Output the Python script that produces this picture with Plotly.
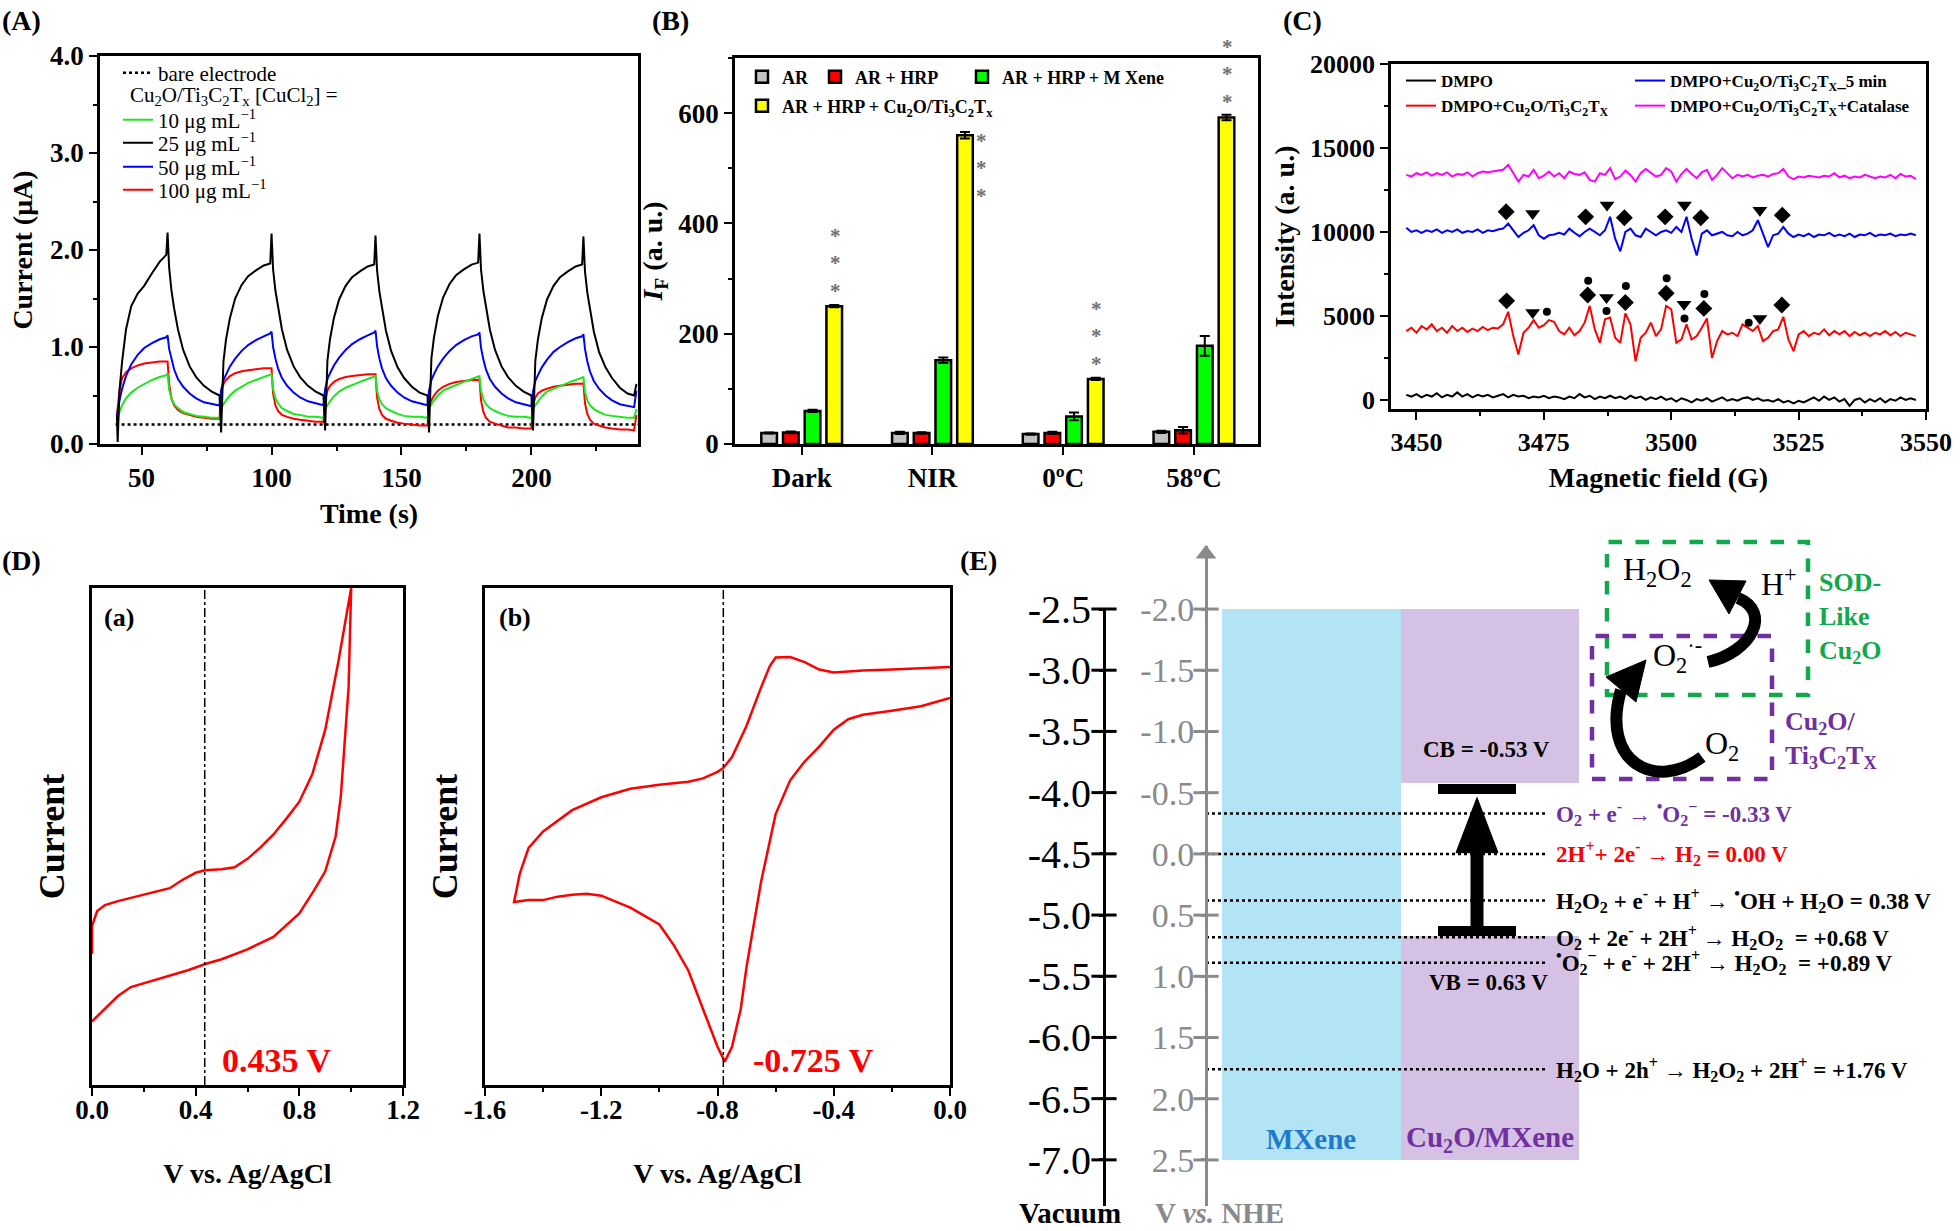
import plotly.graph_objects as go

W, H = 1960, 1231
SERIF = "Liberation Serif"
GRAY = "#8a8a8a"
PURPLE = "#7030a0"
GREEN = "#12a84c"

def fx(x): return x / W
def fy(y): return 1 - y / H
def dx(a, b): return [a / W, b / W]
def dy(top, bottom): return [1 - bottom / H, 1 - top / H]
def P(x, y): return f"{x / W:.5f},{1 - y / H:.5f}"

# ---------------- Panel A data ----------------
A_TIME = [40.5, 40.8, 41.5, 42.5, 44, 46, 48.5, 51, 54, 57, 59.5, 60, 60.6, 61.5, 62.5, 64, 66, 68.5, 71, 74, 77, 79.5,
          80, 80.6, 81.5, 82.5, 84, 86, 88.5, 91, 94, 97, 99.5, 100, 100.6, 101.5, 102.5, 104, 106, 108.5, 111, 114, 117, 119.5,
          120, 120.6, 121.5, 122.5, 124, 126, 128.5, 131, 134, 137, 139.5, 140, 140.6, 141.5, 142.5, 144, 146, 148.5, 151, 154, 157, 159.5,
          160, 160.6, 161.5, 162.5, 164, 166, 168.5, 171, 174, 177, 179.5, 180, 180.6, 181.5, 182.5, 184, 186, 188.5, 191, 194, 197, 199.5,
          200, 200.6, 201.5, 202.5, 204, 206, 208.5, 211, 214, 217, 219.5, 220, 220.6, 221.5, 222.5, 224, 226, 228.5, 231, 234, 237, 239.5,
          240.4]
A_25 = [0.30, 0.02, 0.55, 0.85, 1.18, 1.42, 1.55, 1.63, 1.76, 1.88, 1.95, 2.18, 1.82, 1.58, 1.40, 1.18, 0.97, 0.80, 0.69, 0.60, 0.54, 0.51,
        0.50, 0.12, 0.85, 1.08, 1.30, 1.50, 1.64, 1.73, 1.79, 1.84, 1.86, 2.17, 1.80, 1.58, 1.40, 1.18, 0.97, 0.80, 0.69, 0.60, 0.54, 0.51,
        0.50, 0.14, 0.86, 1.08, 1.30, 1.49, 1.63, 1.72, 1.78, 1.83, 1.85, 2.15, 1.79, 1.57, 1.39, 1.17, 0.96, 0.79, 0.68, 0.59, 0.53, 0.50,
        0.50, 0.12, 0.88, 1.10, 1.32, 1.51, 1.65, 1.74, 1.80, 1.85, 1.87, 2.17, 1.80, 1.58, 1.40, 1.18, 0.97, 0.80, 0.69, 0.60, 0.54, 0.51,
        0.50, 0.14, 0.86, 1.08, 1.30, 1.49, 1.63, 1.72, 1.78, 1.83, 1.85, 2.14, 1.78, 1.56, 1.38, 1.16, 0.95, 0.79, 0.68, 0.58, 0.52, 0.50,
        0.62]
A_50 = [0.30, 0.33, 0.45, 0.57, 0.70, 0.82, 0.92, 0.99, 1.04, 1.08, 1.10, 1.12, 0.98, 0.87, 0.77, 0.67, 0.59, 0.52, 0.47, 0.43, 0.41, 0.40,
        0.40, 0.55, 0.66, 0.72, 0.80, 0.88, 0.96, 1.02, 1.07, 1.11, 1.14, 1.16, 1.00, 0.88, 0.78, 0.68, 0.60, 0.53, 0.48, 0.44, 0.42, 0.40,
        0.40, 0.56, 0.67, 0.73, 0.81, 0.89, 0.97, 1.03, 1.08, 1.12, 1.15, 1.17, 1.01, 0.88, 0.78, 0.68, 0.60, 0.53, 0.48, 0.44, 0.42, 0.40,
        0.40, 0.55, 0.66, 0.72, 0.80, 0.88, 0.96, 1.02, 1.07, 1.11, 1.13, 1.15, 0.99, 0.87, 0.77, 0.67, 0.59, 0.52, 0.47, 0.43, 0.41, 0.40,
        0.39, 0.54, 0.65, 0.71, 0.79, 0.87, 0.95, 1.00, 1.05, 1.09, 1.11, 1.13, 0.98, 0.85, 0.75, 0.65, 0.57, 0.50, 0.45, 0.41, 0.39, 0.38,
        0.55]
A_10 = [0.28, 0.27, 0.33, 0.40, 0.47, 0.53, 0.58, 0.62, 0.66, 0.69, 0.71, 0.73, 0.56, 0.47, 0.41, 0.37, 0.33, 0.31, 0.29, 0.28, 0.27, 0.27,
        0.27, 0.37, 0.41, 0.45, 0.50, 0.55, 0.59, 0.63, 0.66, 0.69, 0.71, 0.72, 0.57, 0.47, 0.42, 0.37, 0.34, 0.31, 0.30, 0.28, 0.28, 0.27,
        0.27, 0.36, 0.40, 0.44, 0.49, 0.54, 0.58, 0.61, 0.64, 0.67, 0.69, 0.70, 0.55, 0.46, 0.41, 0.37, 0.34, 0.31, 0.29, 0.28, 0.28, 0.27,
        0.27, 0.37, 0.41, 0.45, 0.50, 0.55, 0.58, 0.61, 0.64, 0.67, 0.69, 0.70, 0.55, 0.46, 0.41, 0.37, 0.34, 0.31, 0.29, 0.28, 0.28, 0.27,
        0.26, 0.36, 0.40, 0.44, 0.49, 0.54, 0.57, 0.60, 0.63, 0.66, 0.68, 0.69, 0.54, 0.45, 0.40, 0.36, 0.33, 0.30, 0.29, 0.28, 0.27, 0.27,
        0.36]
A_100 = [0.30, 0.36, 0.55, 0.68, 0.74, 0.78, 0.81, 0.83, 0.84, 0.85, 0.85, 0.85, 0.62, 0.47, 0.40, 0.35, 0.32, 0.30, 0.28, 0.27, 0.26, 0.26,
         0.26, 0.55, 0.62, 0.66, 0.70, 0.73, 0.75, 0.76, 0.77, 0.78, 0.78, 0.78, 0.52, 0.40, 0.34, 0.30, 0.28, 0.26, 0.25, 0.24, 0.23, 0.23,
         0.22, 0.45, 0.55, 0.60, 0.64, 0.67, 0.69, 0.70, 0.71, 0.72, 0.72, 0.72, 0.48, 0.36, 0.30, 0.26, 0.24, 0.22, 0.21, 0.20, 0.19, 0.19,
         0.19, 0.38, 0.45, 0.50, 0.55, 0.59, 0.62, 0.64, 0.65, 0.66, 0.66, 0.67, 0.45, 0.33, 0.27, 0.23, 0.21, 0.19, 0.17, 0.17, 0.16, 0.16,
         0.16, 0.40, 0.48, 0.52, 0.55, 0.57, 0.59, 0.60, 0.61, 0.62, 0.62, 0.63, 0.42, 0.31, 0.25, 0.21, 0.19, 0.17, 0.16, 0.15, 0.15, 0.14,
         0.30]
A_BARE_T = [40, 241]
A_BARE_I = [0.20, 0.20]
A_XTICKS = [50, 100, 150, 200]
A_YTICKS = [0.0, 1.0, 2.0, 3.0, 4.0]

# ---------------- Panel B data ----------------
B_CATS = ["Dark", "NIR", "0ºC", "58ºC"]
B_AR = [20, 20, 18, 22]
B_AR_ERR = [1, 2, 1, 2]
B_HRP = [21, 20, 20, 25]
B_HRP_ERR = [1.5, 1.5, 2, 6]
B_MX = [60, 152, 50, 178]
B_MX_ERR = [2, 5, 7, 18]
B_CU = [250, 560, 118, 592]
B_CU_ERR = [2, 6, 2, 5]
B_YTICKS = [0, 200, 400, 600]

# ---------------- Panel C data ----------------
C_FIELD = list(range(3448, 3549))
C_DMPO = [300, 200, 350, 150, 300, 200, 400, 150, 300, 200, 450, 200, 350, 150, 300, 200, 300, 150, 250, 350,
          150, 300, 200, 250, 100, 200, 150, 250, 100, 200, 150, 50, 200, 100, 350, 150, 250, 50, 200, 100,
          250, 100, 200, 50, 250, 100, 200, 0, 150, 50, 200, 0, 100, -100, 100, 0, -150, 50, -50, 100,
          -100, 50, 150, -50, 50, -50, 100, 150, 0, 100, -50, 0, -100, 50, -150, -50, -200, -50, -150, 0,
          150, -50, 200, 0, 150, -100, 50, -350, 0, 100, -150, 50, -100, 100, -150, 50, -50, 150, 0, 100, 0]
C_CU = [4100, 4300, 4000, 4400, 4200, 4500, 4100, 4300, 4000, 4400, 4100, 4300, 4050, 4250, 4100, 4350, 4150, 4300, 4250, 4500,
        5250, 3800, 2700, 4000, 4300, 4750, 4300, 4450, 4750, 4650, 4100, 3900, 4300, 3850, 4100, 4600, 5600, 4200, 3400, 4800,
        4900, 3700, 3400, 5150, 4500, 2300, 3700, 4000, 4600, 3800, 4200, 5600, 5400, 3400, 3600, 4500, 3600, 3800, 4300, 4850,
        2500, 3500, 4100, 3900, 4000, 3800, 4500, 4300, 4100, 4400, 3500, 3700, 4100, 4200, 4950, 3600, 2900, 3900, 4100, 3800,
        4000, 3900, 4200, 3850, 4100, 3900, 4100, 3800, 4050, 3850, 4000, 3800, 4000, 3900, 4100, 3850, 4050, 3800, 4000, 3900, 3800]
C_CU_5MIN = [10250, 10000, 10100, 9950, 10100, 10000, 10150, 9950, 10100, 10000, 10150, 9950, 10050, 10000, 10150, 9950, 10100, 10050, 10150, 10200,
             10500, 10100, 9700, 9950, 10100, 10400, 9800, 9600, 9800, 9850, 9950, 9850, 10200, 9950, 9750, 10000, 10200, 10000, 9800, 10100,
             10900, 9600, 8850, 10000, 10200, 9800, 9700, 10200, 10000, 9800, 10000, 10100, 9950, 10300, 10000, 10900, 9600, 8600, 9900, 10100,
             9800, 9900, 10000, 9800, 9750, 10000, 9800, 9900, 10100, 10700, 9900, 9100, 9800, 9900, 10300, 9900, 9700, 9850, 9750, 9900,
             9700, 9850, 9800, 9950, 9750, 9850, 9750, 9900, 9700, 9850, 9800, 9950, 9750, 9850, 9800, 9900, 9750, 9850, 9800, 9900, 9800]
C_CAT = [13400, 13300, 13500, 13400, 13550, 13350, 13500, 13400, 13550, 13300, 13450, 13400, 13550, 13300, 13500, 13600, 13550, 13600, 13650, 13700,
         14000, 13500, 13000, 13400, 13300, 13700, 13200, 13350, 13600, 13300, 13500, 13200, 13600, 13450, 13400, 13550, 13100, 13000, 13500, 13400,
         13800, 13150, 13300, 13650, 13400, 13000, 13500, 13750, 13500, 13300, 13400, 13800, 13600, 13000, 13450, 13750, 13450, 13200, 13550, 13700,
         13100, 13400, 13800, 13500, 13200, 13400, 13300, 13400, 13250, 13350, 13400, 13300, 13450, 13500, 13750, 13300, 13150, 13300, 13250, 13350,
         13300, 13250, 13350, 13300, 13500, 13250, 13350, 13200, 13300, 13250, 13400, 13300, 13200, 13300, 13250, 13400, 13200, 13450, 13300, 13350, 13150]
C_DIAMOND_X = [3467.6, 3483.2, 3490.8, 3498.8, 3505.8, 3521.8, 3467.7, 3483.6, 3491.0, 3499.0, 3506.4, 3521.7]
C_DIAMOND_Y = [11200, 10900, 10850, 10900, 10850, 11000, 5900, 6250, 5800, 6350, 5450, 5650]
C_TRIANGLE_X = [3472.8, 3487.4, 3502.6, 3517.4, 3472.8, 3487.3, 3502.5, 3517.4]
C_TRIANGLE_Y = [11100, 11600, 11600, 11300, 5200, 6100, 5700, 4850]
C_CIRCLE_X = [3475.6, 3483.7, 3487.3, 3491.1, 3499.1, 3502.6, 3506.5, 3515.2]
C_CIRCLE_Y = [5250, 7100, 5300, 6780, 7250, 4850, 6300, 4600]
C_XTICKS = [3450, 3475, 3500, 3525, 3550]
C_YTICKS = [0, 5000, 10000, 15000, 20000]

# ---------------- Panel D data ----------------
DA_FWD_V = [0.0, 0.0, 0.02, 0.05, 0.1, 0.2, 0.3, 0.35, 0.4, 0.435, 0.5, 0.55, 0.6, 0.65, 0.7, 0.75, 0.8, 0.85, 0.9, 0.95, 0.98, 1.0]
DA_FWD_I = [26.4, 32, 35, 36.2, 37, 38.3, 39.6, 41.3, 42.7, 43.2, 43.4, 43.8, 45.5, 47.8, 50.4, 53.6, 57, 62.5, 71.5, 85, 94.5, 100]
DA_REV_V = [1.0, 0.99, 0.975, 0.96, 0.94, 0.9, 0.855, 0.8, 0.7, 0.6, 0.5, 0.44, 0.37, 0.25, 0.15, 0.1, 0.05, 0.0]
DA_REV_I = [100, 80, 68, 58, 50, 43, 39, 34.5, 29.8, 27.3, 25.3, 24.4, 23.1, 21.3, 19.7, 17.9, 15.3, 12.8]
DB_V = [0.0, -0.1, -0.2, -0.3, -0.4, -0.45, -0.5, -0.55, -0.6, -0.62, -0.65, -0.7, -0.75, -0.78, -0.8, -0.85, -0.9, -1.0,
        -1.1, -1.2, -1.3, -1.4, -1.45, -1.48, -1.5, -1.5, -1.45, -1.4, -1.35, -1.3, -1.25, -1.2, -1.1, -1.0, -0.95, -0.9,
        -0.85, -0.8, -0.775, -0.75, -0.72, -0.7, -0.65, -0.6, -0.55, -0.5, -0.45, -0.4, -0.35, -0.3, -0.2, -0.1, 0.0]
DB_I = [84.1, 83.8, 83.6, 83.4, 83.0, 83.6, 85.1, 86.1, 86.0, 84.3, 80.0, 72.3, 66.0, 63.8, 63.0, 61.7, 61.0, 60.4,
        59.6, 57.9, 55.3, 51.0, 47.7, 42.6, 37.4, 36.8, 37.2, 37.2, 37.9, 38.3, 38.5, 38.1, 35.7, 32.3, 28.1, 23.0,
        15.3, 7.7, 4.7, 7.7, 15.3, 23.8, 40.9, 54.5, 61.3, 65.1, 68.1, 71.5, 73.6, 74.5, 75.3, 76.2, 77.9]
DA_PEAK = 0.435
DB_PEAK = -0.78
DA_XTICKS = [0.0, 0.4, 0.8, 1.2]
DB_XTICKS = [-1.6, -1.2, -0.8, -0.4, 0.0]

# ---------------- Panel E data ----------------
E_NHE_TICKS = [-2.0, -1.5, -1.0, -0.5, 0.0, 0.5, 1.0, 1.5, 2.0, 2.5]
E_VAC_TICKS = [-2.5, -3.0, -3.5, -4.0, -4.5, -5.0, -5.5, -6.0, -6.5, -7.0]
E_CB = -0.53
E_VB = 0.63
E_BAND_TOP = -2.0
E_BAND_BOTTOM = 2.5
E_POT = [-0.33, 0.00, 0.38, 0.68, 0.89, 1.76]
E_LABELS = [
    "O<sub>2</sub> + e<sup>-</sup> → <sup>•</sup>O<sub>2</sub><sup>−</sup> = -0.33 V",
    "2H<sup>+</sup>+ 2e<sup>-</sup> → H<sub>2</sub> = 0.00 V",
    "H<sub>2</sub>O<sub>2</sub> + e<sup>-</sup> + H<sup>+</sup> → <sup>•</sup>OH + H<sub>2</sub>O = 0.38 V",
    "O<sub>2</sub> + 2e<sup>-</sup> + 2H<sup>+</sup> → H<sub>2</sub>O<sub>2</sub>  = +0.68 V",
    "<sup>•</sup>O<sub>2</sub><sup>−</sup> + e<sup>-</sup> + 2H<sup>+</sup> → H<sub>2</sub>O<sub>2</sub>  = +0.89 V",
    "H<sub>2</sub>O + 2h<sup>+</sup> → H<sub>2</sub>O<sub>2</sub> + 2H<sup>+</sup> = +1.76 V",
]
E_COLORS = [PURPLE, "#ff0000", "black", "black", "black", "black"]

# layout positions for the schematic (px)
E_VAC_X = 1104
E_NHE_X = 1206
E_MX_X = (1222, 1401)
E_CU_X = (1401, 1579)
E_GAP_X = 1477
E_BAR_HALF = 39
E_HEAD_HALF = 21
E_LINE_X1 = 1546
E_TEXT_X = 1554

fig = go.Figure()

# ---------------- Panel A traces ----------------
fig.add_trace(go.Scatter(x=A_BARE_T, y=A_BARE_I, mode="lines", name="bare electrode",
                         line=dict(color="black", width=2.5, dash="dot"), legend="legend", xaxis="x", yaxis="y"))
A_SERIES = [("100 μg mL<sup>−1</sup>", A_100, "#ff0000", "legend9"),
            ("10 μg mL<sup>−1</sup>", A_10, "#1ee61e", "legend2"),
            ("50 μg mL<sup>−1</sup>", A_50, "#0000ff", "legend8"),
            ("25 μg mL<sup>−1</sup>", A_25, "black", "legend7")]
for name, vals, col, lgd in A_SERIES:
    fig.add_trace(go.Scatter(x=A_TIME, y=vals, mode="lines", name=name,
                             line=dict(color=col, width=2), legend=lgd, xaxis="x", yaxis="y"))

# ---------------- Panel B traces ----------------
B_SERIES = [("AR", B_AR, B_AR_ERR, "#c3c3c3", "legend3"),
            ("AR + HRP", B_HRP, B_HRP_ERR, "#ff0000", "legend10"),
            ("AR + HRP + M Xene", B_MX, B_MX_ERR, "#00ff00", "legend11"),
            ("AR + HRP + Cu<sub>2</sub>O/Ti<sub>3</sub>C<sub>2</sub>T<sub>x</sub>", B_CU, B_CU_ERR, "#ffff00", "legend4")]
for name, vals, err, col, lgd in B_SERIES:
    fig.add_trace(go.Bar(x=B_CATS, y=vals, name=name, legend=lgd, xaxis="x2", yaxis="y2",
                         marker=dict(color=col, line=dict(color="black", width=2.5)),
                         error_y=dict(type="data", array=err, color="black", thickness=2, width=5)))

# ---------------- Panel C traces ----------------
C_SERIES = [("DMPO", C_DMPO, "black", "legend5"),
            ("DMPO+Cu<sub>2</sub>O/Ti<sub>3</sub>C<sub>2</sub>T<sub>X</sub>", C_CU, "#ff0000", "legend5"),
            ("DMPO+Cu<sub>2</sub>O/Ti<sub>3</sub>C<sub>2</sub>T<sub>X</sub>_5 min", C_CU_5MIN, "#0000ff", "legend6"),
            ("DMPO+Cu<sub>2</sub>O/Ti<sub>3</sub>C<sub>2</sub>T<sub>X</sub>+Catalase", C_CAT, "#ff00ff", "legend6")]
for name, vals, col, lgd in C_SERIES:
    fig.add_trace(go.Scatter(x=C_FIELD, y=vals, mode="lines", name=name, legend=lgd,
                             line=dict(color=col, width=2), xaxis="x3", yaxis="y3"))
for xs, ys, sym, size in [(C_DIAMOND_X, C_DIAMOND_Y, "diamond", 13),
                          (C_TRIANGLE_X, C_TRIANGLE_Y, "triangle-down", 13),
                          (C_CIRCLE_X, C_CIRCLE_Y, "circle", 8)]:
    fig.add_trace(go.Scatter(x=xs, y=ys, mode="markers", showlegend=False, xaxis="x3", yaxis="y3",
                             marker=dict(symbol=sym, size=size, color="black")))

# ---------------- Panel D traces ----------------
fig.add_trace(go.Scatter(x=DA_FWD_V + DA_REV_V, y=DA_FWD_I + DA_REV_I, mode="lines", showlegend=False,
                         line=dict(color="#ff0000", width=2.5), xaxis="x4", yaxis="y4"))
fig.add_trace(go.Scatter(x=[DA_PEAK, DA_PEAK], y=[0, 100], mode="lines", showlegend=False,
                         line=dict(color="black", width=1.5, dash="dashdot"), xaxis="x4", yaxis="y4"))
fig.add_trace(go.Scatter(x=DB_V, y=DB_I, mode="lines", showlegend=False,
                         line=dict(color="#ff0000", width=2.5), xaxis="x5", yaxis="y5"))
fig.add_trace(go.Scatter(x=[DB_PEAK, DB_PEAK], y=[0, 100], mode="lines", showlegend=False,
                         line=dict(color="black", width=1.5, dash="dashdot"), xaxis="x5", yaxis="y5"))

# ---------------- Panel E traces ----------------
for pot in E_POT:
    fig.add_trace(go.Scatter(x=[E_NHE_X, E_LINE_X1], y=[pot, pot], mode="lines", showlegend=False,
                             line=dict(color="black", width=2.5, dash="dot"), xaxis="x6", yaxis="y6"))
for lvl in (E_CB, E_VB):
    fig.add_trace(go.Scatter(x=[E_GAP_X - E_BAR_HALF, E_GAP_X + E_BAR_HALF], y=[lvl, lvl], mode="lines",
                             showlegend=False, line=dict(color="black", width=10), xaxis="x6", yaxis="y6"))
fig.add_trace(go.Scatter(x=[E_GAP_X, E_GAP_X], y=[E_VB, E_CB + 0.5], mode="lines", showlegend=False,
                         line=dict(color="black", width=13), xaxis="x6", yaxis="y6"))
fig.add_trace(go.Scatter(x=[E_NHE_X] * len(E_NHE_TICKS), y=E_NHE_TICKS, mode="markers", showlegend=False,
                         cliponaxis=False, marker=dict(symbol="line-ew", size=18, line=dict(color=GRAY, width=3)),
                         xaxis="x6", yaxis="y6"))
fig.add_trace(go.Scatter(x=[E_NHE_X], y=[-2.45], mode="markers", showlegend=False, cliponaxis=False,
                         marker=dict(symbol="triangle-up", size=18, color=GRAY), xaxis="x6", yaxis="y6"))
fig.add_trace(go.Scatter(x=[E_VAC_X] * len(E_VAC_TICKS), y=E_VAC_TICKS, mode="markers", showlegend=False,
                         cliponaxis=False, marker=dict(symbol="line-ew", size=18, line=dict(color="black", width=3)),
                         xaxis="x6", yaxis="y7"))

# ---------------- Axes ----------------
def tfont(size=27, weight="bold", color="black"):
    return dict(family=SERIF, size=size, weight=weight, color=color)

def frame(**kw):
    base = dict(showline=True, linecolor="black", linewidth=2.5, mirror=True, ticks="outside", ticklen=8,
                tickwidth=2, tickcolor="black", showgrid=False, zeroline=False, tickfont=tfont(),
                automargin=False)
    base.update(kw)
    return base

def minor(d):
    return dict(ticks="outside", ticklen=4, tickwidth=2, tickcolor="black", dtick=d, showgrid=False)

layout_axes = dict(
    xaxis=frame(domain=dx(100, 638), anchor="y", range=[34, 241], tickvals=A_XTICKS, minor=minor(25),
                title=dict(text="Time (s)", font=tfont(28), standoff=12)),
    yaxis=frame(domain=dy(56, 444), anchor="x", range=[0, 4], tickvals=A_YTICKS,
                ticktext=[f"{v:.1f}" for v in A_YTICKS], minor=minor(0.5),
                title=dict(text="Current (μA)", font=tfont(28), standoff=10)),
    xaxis2=frame(domain=dx(735, 1258), anchor="y2", range=[-0.51, 3.49], tickfont=tfont(27)),
    yaxis2=frame(domain=dy(58, 444), anchor="x2", range=[0, 700], tickvals=B_YTICKS, minor=minor(100),
                 title=dict(text="<i>I</i><sub>F</sub> (a. u.)", font=tfont(28), standoff=8)),
    xaxis3=frame(domain=dx(1391, 1926), anchor="y3", range=[3445, 3550], tickvals=C_XTICKS, minor=minor(12.5),
                 tickfont=tfont(26), title=dict(text="Magnetic field (G)", font=tfont(28), standoff=12)),
    yaxis3=frame(domain=dy(64, 409), anchor="x3", range=[-540, 20000], tickvals=C_YTICKS,
                 ticktext=[str(v) for v in C_YTICKS], minor=minor(2500), tickfont=tfont(26),
                 title=dict(text="Intensity (a. u.)", font=tfont(28), standoff=8)),
    xaxis4=frame(domain=dx(92, 403), anchor="y4", range=[0, 1.2], tickvals=DA_XTICKS,
                 ticktext=[f"{v:.1f}" for v in DA_XTICKS], minor=minor(0.2), tickfont=tfont(27),
                 ticklabelstandoff=-9,
                 title=dict(text="V vs. Ag/AgCl", font=tfont(28), standoff=40)),
    yaxis4=frame(domain=dy(588, 1085), anchor="x4", range=[0, 100], ticks="", showticklabels=False,
                 title=dict(text="Current", font=tfont(36), standoff=14)),
    xaxis5=frame(domain=dx(485, 950), anchor="y5", range=[-1.6, 0], tickvals=DB_XTICKS,
                 ticktext=[f"{v:.1f}" for v in DB_XTICKS], minor=minor(0.2), tickfont=tfont(27),
                 ticklabelstandoff=-9,
                 title=dict(text="V vs. Ag/AgCl", font=tfont(28), standoff=40)),
    yaxis5=frame(domain=dy(588, 1085), anchor="x5", range=[0, 100], ticks="", showticklabels=False,
                 title=dict(text="Current", font=tfont(36), standoff=14)),
    xaxis6=dict(domain=dx(975, 1960), anchor="y6", range=[975, 1960], visible=False, automargin=False),
    yaxis6=dict(domain=dy(546, 1206), anchor="free", position=fx(E_NHE_X), range=[2.876, -2.515],
                showline=True, linecolor=GRAY, linewidth=3, ticks="outside", ticklen=4, tickwidth=3,
                tickcolor=GRAY, tickvals=E_NHE_TICKS, ticktext=[f"{v:.1f}" for v in E_NHE_TICKS],
                tickfont=dict(family=SERIF, size=34, color=GRAY), showgrid=False, zeroline=False,
                automargin=False),
    yaxis7=dict(domain=dy(609, 1206), anchor="free", position=fx(E_VAC_X), range=[-7.377, -2.5],
                showline=True, linecolor="black", linewidth=3, ticks="outside", ticklen=4, tickwidth=3,
                tickcolor="black", tickvals=E_VAC_TICKS, ticktext=[f"{v:.1f}" for v in E_VAC_TICKS],
                tickfont=dict(family=SERIF, size=40, color="black"), showgrid=False, zeroline=False,
                automargin=False),
)

# ---------------- Shapes ----------------
shapes = [
    dict(type="rect", xref="x6", yref="y6", x0=E_MX_X[0], x1=E_MX_X[1], y0=E_BAND_TOP, y1=E_BAND_BOTTOM,
         fillcolor="#b3e4f6", line=dict(width=0), layer="below"),
    dict(type="rect", xref="x6", yref="y6", x0=E_CU_X[0], x1=E_CU_X[1], y0=E_BAND_TOP, y1=E_CB - 0.05,
         fillcolor="#d5c1e3", line=dict(width=0), layer="below"),
    dict(type="rect", xref="x6", yref="y6", x0=E_CU_X[0], x1=E_CU_X[1], y0=E_VB + 0.04, y1=E_BAND_BOTTOM,
         fillcolor="#d5c1e3", line=dict(width=0), layer="below"),
    dict(type="path", xref="x6", yref="y6",
         path=(f"M{E_GAP_X},{E_CB + 0.07} L{E_GAP_X - E_HEAD_HALF},{E_CB + 0.52} "
               f"L{E_GAP_X + E_HEAD_HALF},{E_CB + 0.52} Z"),
         fillcolor="black", line=dict(color="black", width=1)),
    dict(type="rect", xref="paper", yref="paper", x0=fx(1607), x1=fx(1808), y0=fy(695), y1=fy(542),
         line=dict(color=GREEN, width=4.5, dash="dash")),
    dict(type="rect", xref="paper", yref="paper", x0=fx(1592), x1=fx(1772), y0=fy(779), y1=fy(636),
         line=dict(color=PURPLE, width=4.5, dash="dash")),
    dict(type="path", xref="paper", yref="paper",
         path=f"M{P(1702, 757)} C{P(1655, 792)} {P(1600, 762)} {P(1621, 690)}",
         line=dict(color="black", width=12), fillcolor="rgba(0,0,0,0)"),
    dict(type="path", xref="paper", yref="paper",
         path=f"M{P(1646, 660)} L{P(1606, 677)} L{P(1636, 702)} Z",
         line=dict(color="black", width=1), fillcolor="black"),
    dict(type="path", xref="paper", yref="paper",
         path=f"M{P(1708, 662)} C{P(1752, 652)} {P(1772, 612)} {P(1738, 598)}",
         line=dict(color="black", width=12), fillcolor="rgba(0,0,0,0)"),
    dict(type="path", xref="paper", yref="paper",
         path=f"M{P(1709, 580)} L{P(1746, 581)} L{P(1729, 614)} Z",
         line=dict(color="black", width=1), fillcolor="black"),
]

# ---------------- Annotations ----------------
def pa(text, x, y, size, weight="bold", color="black", xanchor="center", yanchor="middle", **kw):
    d = dict(text=text, x=fx(x), y=fy(y), xref="paper", yref="paper", showarrow=False,
             font=dict(family=SERIF, size=size, weight=weight, color=color), xanchor=xanchor, yanchor=yanchor)
    d.update(kw)
    return d

def da(text, x, y, xref, yref, size, weight="bold", color="black", xanchor="center", yanchor="middle"):
    return dict(text=text, x=x, y=y, xref=xref, yref=yref, showarrow=False,
                font=dict(family=SERIF, size=size, weight=weight, color=color), xanchor=xanchor, yanchor=yanchor)

annotations = [
    pa("(A)", 0, 20, 28, xanchor="left"),
    pa("(B)", 650, 20, 28, xanchor="left"),
    pa("(C)", 1281, 20, 28, xanchor="left"),
    pa("(D)", 0, 560, 28, xanchor="left"),
    pa("(E)", 958, 560, 28, xanchor="left"),
    pa("Cu<sub>2</sub>O/Ti<sub>3</sub>C<sub>2</sub>T<sub>x</sub> [CuCl<sub>2</sub>] =", 128, 96, 21,
       weight="normal", xanchor="left"),
    da("(a)", 0.04, 94, "x4", "y4", 26, xanchor="left"),
    da("(b)", -1.56, 94, "x5", "y5", 26, xanchor="left"),
    da("0.435 V", 0.71, 5, "x4", "y4", 34, color="#ff0000"),
    da("-0.725 V", -0.47, 5, "x5", "y5", 34, color="#ff0000"),
    da(f"CB = {E_CB:.2f} V", 1486, E_CB - 0.32, "x6", "y6", 23),
    da(f"VB = {E_VB:.2f} V", 1488, E_VB + 0.42, "x6", "y6", 23),
    da("MXene", 1311, 2.33, "x6", "y6", 29, color="#1f7acb"),
    da("Cu<sub>2</sub>O/MXene", 1490, 2.33, "x6", "y6", 29, color=PURPLE),
    pa("Vacuum", 1070, 1213, 29),
    pa("V <i>vs.</i> NHE", 1219, 1213, 29, color=GRAY),
    pa("H<sub>2</sub>O<sub>2</sub>", 1657, 571, 32, weight="normal"),
    pa("H<sup>+</sup>", 1779, 582, 32, weight="normal"),
    pa("O<sub>2</sub><sup>·-</sup>", 1677, 655, 32, weight="normal"),
    pa("O<sub>2</sub>", 1722, 745, 32, weight="normal"),
    pa("SOD-<br>Like<br>Cu<sub>2</sub>O", 1817, 618, 26, color=GREEN, xanchor="left", align="left"),
    pa("Cu<sub>2</sub>O/<br>Ti<sub>3</sub>C<sub>2</sub>T<sub>X</sub>", 1783, 740, 26, color=PURPLE,
       xanchor="left", align="left"),
]
# significance stars in B (stacked "***")
B_STAR_X = [0.255, 1.375, 2.255, 3.255]
for i, (sx, top) in enumerate(zip(B_STAR_X, B_CU)):
    if i == 1:
        annotations.append(da("*<br>*<br>*", sx, top + 14, "x2", "y2", 21, color="#707070", yanchor="top"))
    else:
        annotations.append(da("*<br>*<br>*", sx, top + 2, "x2", "y2", 21, color="#707070", yanchor="bottom"))
for pot, lab, col in zip(E_POT, E_LABELS, E_COLORS):
    annotations.append(da(lab, E_TEXT_X, pot, "x6", "y6", 23, color=col, xanchor="left"))

# ---------------- Legends ----------------
def lg(x, y, size, weight="normal", yanchor="middle", **kw):
    d = dict(x=fx(x), y=fy(y), xanchor="left", yanchor=yanchor, bgcolor="rgba(0,0,0,0)", borderwidth=0,
             font=dict(family=SERIF, size=size, weight=weight, color="black"), tracegroupgap=0,
             itemwidth=30)
    d.update(kw)
    return d

fig.update_layout(
    width=W, height=H, autosize=False, margin=dict(l=0, r=0, t=0, b=0, autoexpand=False),
    paper_bgcolor="white", plot_bgcolor="rgba(0,0,0,0)",
    font=dict(family=SERIF, color="black"),
    barmode="group", bargap=0.336, bargroupgap=0.28,
    shapes=shapes, annotations=annotations,
    legend=lg(118, 73, 21),
    legend2=lg(118, 120, 21),
    legend7=lg(118, 143, 21),
    legend8=lg(118, 167, 21),
    legend9=lg(118, 190, 21),
    legend3=lg(742, 77, 18, weight="bold"),
    legend10=lg(815, 77, 18, weight="bold"),
    legend11=lg(962, 77, 18, weight="bold"),
    legend4=lg(742, 106, 18, weight="bold"),
    legend5=lg(1401, 63, 17, weight="bold", yanchor="top"),
    legend6=lg(1630, 63, 17, weight="bold", yanchor="top"),
    **layout_axes,
)

fig.write_html("out.html", config={"displayModeBar": False},
               post_script="document.body.style.margin='0px';document.body.style.overflow='hidden';")
